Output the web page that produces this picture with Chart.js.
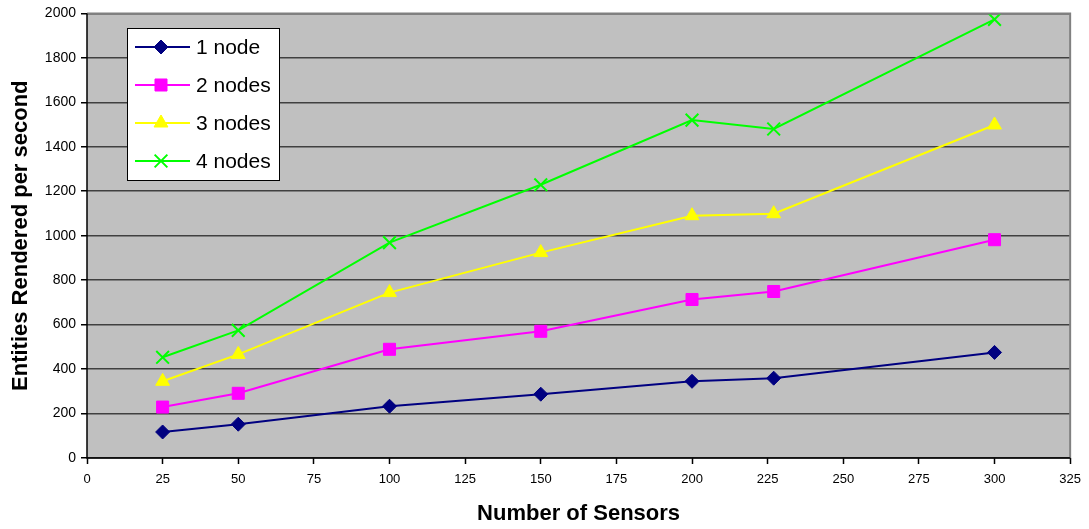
<!DOCTYPE html>
<html>
<head>
<meta charset="utf-8">
<script src="https://cdn.jsdelivr.net/npm/chart.js@4/dist/chart.umd.min.js"></script>
<style>
  html, body { margin: 0; padding: 0; background: #fff; }
  #wrap { width: 1089px; height: 529px; }
</style>
</head>
<body>
<div id="wrap"><canvas id="chart" width="1089" height="529"></canvas></div>
<script>
// sensors on x, entities per second on y
const sensors = [25, 50, 100, 150, 200, 227, 300];
const oneNode = [117, 152, 233, 287, 345, 359, 475];
const twoNodes = [229, 291, 489, 570, 713, 749, 982];
const threeNodes = [345, 466, 744, 924, 1090, 1099, 1498];
const fourNodes = [453, 574, 969, 1229, 1520, 1480, 1973];
const seriesNames = ['1 node', '2 nodes', '3 nodes', '4 nodes'];

const FONT = 'Arial, "Liberation Sans", sans-serif';

function pts(vals) {
    return sensors.map((x, i) => ({ x: x, y: vals[i] }));
}

function makeSet(label, vals, color, style, radius) {
    return {
        label: label,
        data: pts(vals),
        borderColor: color,
        backgroundColor: color,
        borderWidth: 2,
        pointStyle: style,
        pointRadius: radius,
        pointBorderWidth: style === 'crossRot' ? 2 : 1,
        pointBorderColor: color,
        pointBackgroundColor: color,
        tension: 0
    };
}

// gray plot background + border
const plotBg = {
    id: 'plotBg',
    beforeDraw(chart) {
        const a = chart.chartArea, ctx = chart.ctx;
        ctx.save();
        ctx.fillStyle = '#c0c0c0';
        ctx.fillRect(a.left, a.top, a.right - a.left, a.bottom - a.top);
        ctx.restore();
    },
    afterDraw(chart) {
        const a = chart.chartArea, ctx = chart.ctx;
        ctx.save();
        ctx.strokeStyle = '#808080';
        ctx.lineWidth = 2;
        ctx.beginPath();
        ctx.moveTo(a.left, a.top);
        ctx.lineTo(a.right, a.top);
        ctx.lineTo(a.right, a.bottom);
        ctx.stroke();
        ctx.strokeStyle = '#000';
        ctx.lineWidth = 1.5;
        ctx.beginPath();
        ctx.moveTo(a.left, a.top);
        ctx.lineTo(a.left, a.bottom);
        ctx.lineTo(a.right, a.bottom);
        ctx.stroke();
        ctx.restore();
    }
};

// boxed legend inside the plot, upper left
const boxLegend = {
    id: 'boxLegend',
    afterDraw(chart) {
        const ctx = chart.ctx;
        const x0 = 127, y0 = 28, w = 152, h = 152;
        ctx.save();
        ctx.fillStyle = '#fff';
        ctx.fillRect(x0, y0, w, h);
        ctx.strokeStyle = '#000';
        ctx.lineWidth = 1;
        ctx.strokeRect(x0 + 0.5, y0 + 0.5, w, h);
        chart.data.datasets.forEach((ds, i) => {
            const cy = y0 + 19 + i * 38;
            ctx.strokeStyle = ds.borderColor;
            ctx.lineWidth = 2;
            ctx.beginPath();
            ctx.moveTo(x0 + 8, cy);
            ctx.lineTo(x0 + 63, cy);
            ctx.stroke();
            ctx.fillStyle = ds.pointBackgroundColor;
            ctx.strokeStyle = ds.pointBorderColor;
            ctx.lineWidth = ds.pointBorderWidth;
            Chart.helpers.drawPoint(ctx, { pointStyle: ds.pointStyle, radius: ds.pointRadius, borderWidth: ds.pointBorderWidth, rotation: 0 }, x0 + 34, cy);
            ctx.fillStyle = '#000';
            ctx.font = '21px ' + FONT;
            ctx.textBaseline = 'middle';
            ctx.textAlign = 'left';
            ctx.fillText(ds.label, x0 + 69, cy + 1);
        });
        ctx.restore();
    }
};

new Chart(document.getElementById('chart').getContext('2d'), {
    type: 'line',
    data: {
        datasets: [
            makeSet(seriesNames[0], oneNode, '#000080', 'rectRot', 7),
            makeSet(seriesNames[1], twoNodes, '#ff00ff', 'rect', 8.5),
            makeSet(seriesNames[2], threeNodes, '#ffff00', 'triangle', 8),
            makeSet(seriesNames[3], fourNodes, '#00ff00', 'crossRot', 9)
        ]
    },
    plugins: [plotBg, boxLegend],
    options: {
        responsive: false,
        animation: false,
        layout: { padding: { top: 12, right: 18, left: 0, bottom: 0 } },
        plugins: {
            legend: { display: false },
            tooltip: { enabled: false }
        },
        scales: {
            x: {
                type: 'linear',
                min: 0,
                max: 325,
                afterFit: s => { s.height = 71; },
                ticks: {
                    stepSize: 25,
                    color: '#000',
                    font: { family: FONT, size: 13 },
                    padding: 8,
                    maxRotation: 0,
                    callback: v => String(v)
                },
                grid: { drawOnChartArea: false, color: '#000', tickLength: 6, tickWidth: 1.5 },
                border: { display: false },
                title: {
                    display: true,
                    text: 'Number of Sensors',
                    color: '#000',
                    font: { family: FONT, size: 22, weight: 'bold' },
                    padding: { top: 10, bottom: 2 }
                }
            },
            y: {
                min: 0,
                max: 2000,
                afterFit: s => { s.width = 87; },
                ticks: {
                    stepSize: 200,
                    color: '#000',
                    font: { family: FONT, size: 14 },
                    padding: 5,
                    callback: v => String(v)
                },
                grid: { color: '#404040', lineWidth: 1.5, tickLength: 6, tickColor: '#000' },
                border: { display: false },
                title: {
                    display: true,
                    text: 'Entities Rendered per second',
                    color: '#000',
                    font: { family: FONT, size: 22, weight: 'bold' },
                    padding: { top: 8, bottom: 4 }
                }
            }
        }
    }
});
</script>
</body>
</html>
